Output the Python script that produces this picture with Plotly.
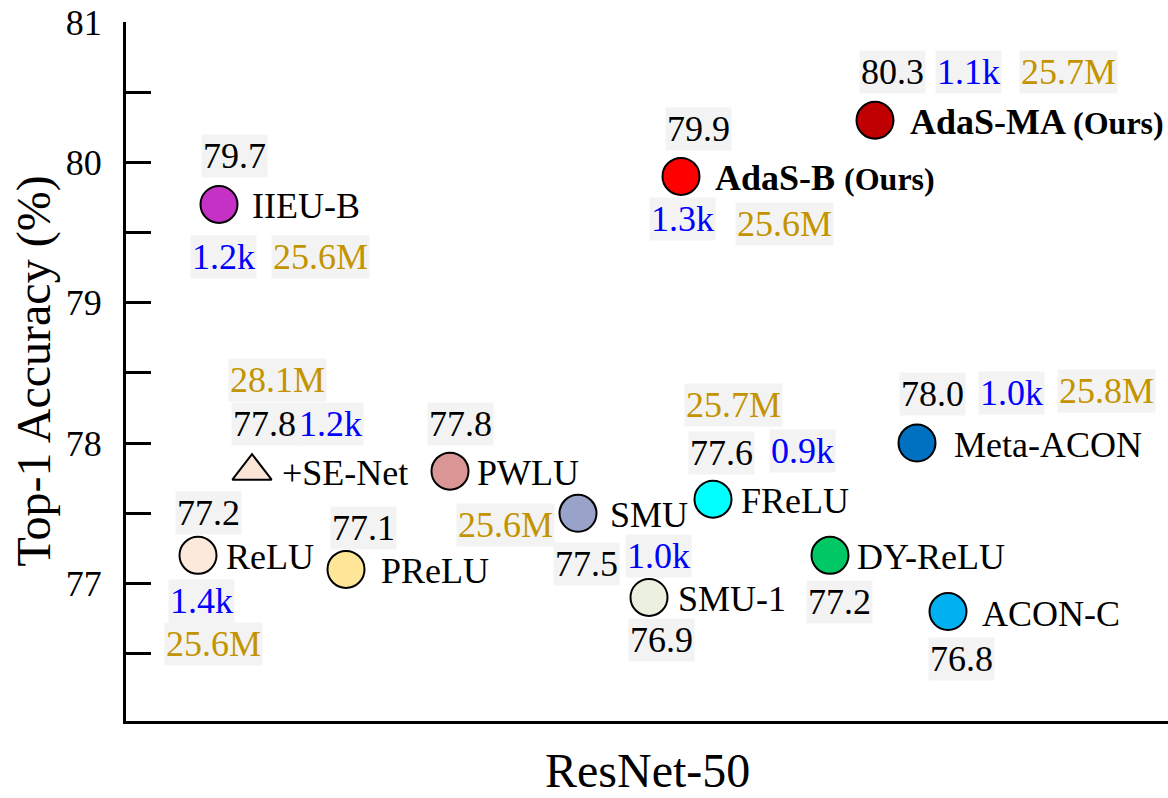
import plotly.graph_objects as go

# Activation functions compared on ResNet-50 (ImageNet)
methods = ["ReLU", "PReLU", "+SE-Net", "PWLU", "IIEU-B", "SMU", "SMU-1",
           "FReLU", "DY-ReLU", "ACON-C", "Meta-ACON", "AdaS-B", "AdaS-MA"]
# horizontal placement of each method (no numeric meaning on this axis)
x_pos = [0.72, 2.20, 1.26, 3.24, 0.93, 4.52, 5.23,
         5.87, 7.04, 8.22, 7.91, 5.55, 7.49]
top1 = [77.2, 77.1, 77.8, 77.8, 79.7, 77.5, 76.9,
        77.6, 77.2, 76.8, 78.0, 79.9, 80.3]
flops = ["1.4k", None, "1.2k", None, "1.2k", None, "1.0k",
         "0.9k", None, None, "1.0k", "1.3k", "1.1k"]
params = ["25.6M", None, "28.1M", "25.6M", "25.6M", None, None,
          "25.7M", None, None, "25.8M", "25.6M", "25.7M"]
ours = ["AdaS-B", "AdaS-MA"]

y_ticks = [76.5, 77, 77.5, 78, 78.5, 79, 79.5, 80, 80.5, 81]
y_ticktext = ["", "77", "", "78", "", "79", "", "80", "", "81"]

# marker styling
fill = {
    "ReLU": "#fde9db", "PReLU": "#ffe699", "+SE-Net": "#fbe5d6",
    "PWLU": "#d99694", "IIEU-B": "#c431c4", "SMU": "#99a2c9",
    "SMU-1": "#ebf1de", "FReLU": "#00ffff", "DY-ReLU": "#00c864",
    "ACON-C": "#00b0f0", "Meta-ACON": "#0070c0", "AdaS-B": "#ff0000",
    "AdaS-MA": "#c00000",
}

# label placement in pixels relative to each marker: (dx, dy) with dy downward
val_off = {
    "ReLU": (10, -42), "PReLU": (17, -41), "+SE-Net": (12, -47),
    "PWLU": (10, -47), "IIEU-B": (15, -48), "SMU": (8, 51),
    "SMU-1": (12, 43), "FReLU": (8, -46), "DY-ReLU": (9, 47),
    "ACON-C": (13, 47), "Meta-ACON": (15, -49), "AdaS-B": (17, -47),
    "AdaS-MA": (17, -48),
}
flops_off = {
    "ReLU": (3, 46), "+SE-Net": (78, -47), "IIEU-B": (4, 53),
    "SMU-1": (9, -41), "FReLU": (89, -48), "Meta-ACON": (94, -50),
    "AdaS-B": (1, 43), "AdaS-MA": (93, -48),
}
params_off = {
    "ReLU": (15, 89), "+SE-Net": (25, -91), "PWLU": (55, 54),
    "IIEU-B": (101, 53), "FReLU": (20, -94), "Meta-ACON": (189, -52),
    "AdaS-B": (103, 48), "AdaS-MA": (193, -48),
}
name_dx = {
    "ReLU": 26, "PReLU": 33, "+SE-Net": 28, "PWLU": 25, "IIEU-B": 31,
    "SMU": 30, "SMU-1": 27, "FReLU": 26, "DY-ReLU": 25, "ACON-C": 32,
    "Meta-ACON": 35, "AdaS-B": 32, "AdaS-MA": 33,
}

FONT = "Liberation Serif"
BOX = "#f3f3f3"
BLUE = "#0000ff"
GOLD = "#c39300"

fig = go.Figure()
fig.add_trace(go.Scatter(
    x=x_pos, y=top1, mode="markers",
    marker=dict(
        size=[34 if m == "+SE-Net" else 37 for m in methods],
        symbol=["triangle-up" if m == "+SE-Net" else "circle" for m in methods],
        color=[fill[m] for m in methods],
        opacity=1,
        line=dict(color="black", width=2),
    ),
    hoverinfo="skip", showlegend=False,
))

ann = []
for m, x, y, fl, pa in zip(methods, x_pos, top1, flops, params):
    if m in ours:
        name = f"<b>{m} <span style='font-size:32px'>(Ours)</span></b>"
    else:
        name = m
    ann.append(dict(x=x, y=y, xref="x", yref="y", text=name, showarrow=False,
                    xanchor="left", yanchor="middle", xshift=name_dx[m], yshift=-2,
                    font=dict(family=FONT, size=36, color="black")))
    dx, dy = val_off[m]
    ann.append(dict(x=x, y=y, xref="x", yref="y", text=f"{y:.1f}", showarrow=False,
                    xanchor="center", yanchor="middle", xshift=dx, yshift=-dy,
                    bgcolor=BOX, borderpad=1,
                    font=dict(family=FONT, size=36, color="black")))
    if fl is not None:
        dx, dy = flops_off[m]
        ann.append(dict(x=x, y=y, xref="x", yref="y", text=fl, showarrow=False,
                        xanchor="center", yanchor="middle", xshift=dx, yshift=-dy,
                        bgcolor=BOX, borderpad=1,
                        font=dict(family=FONT, size=36, color=BLUE)))
    if pa is not None:
        dx, dy = params_off[m]
        ann.append(dict(x=x, y=y, xref="x", yref="y", text=pa, showarrow=False,
                        xanchor="center", yanchor="middle", xshift=dx, yshift=-dy,
                        bgcolor=BOX, borderpad=1,
                        font=dict(family=FONT, size=36, color=GOLD)))

# axis titles
ann.append(dict(x=0.5, y=0, xref="paper", yref="paper", text="ResNet-50",
                showarrow=False, xanchor="center", yanchor="middle", yshift=-49,
                font=dict(family=FONT, size=48, color="black")))
ann.append(dict(x=0, y=0.5, xref="paper", yref="paper", text="Top-1 Accuracy (%)",
                showarrow=False, textangle=-90, xanchor="center", yanchor="middle",
                xshift=-93, font=dict(family=FONT, size=48, color="black")))

fig.update_layout(
    width=1168, height=798,
    margin=dict(l=126, r=0, t=22, b=77),
    plot_bgcolor="white", paper_bgcolor="white",
    annotations=ann,
    xaxis=dict(range=[0, 10.42], showline=True, linecolor="black", linewidth=3,
               showticklabels=False, ticks="", showgrid=False, zeroline=False,
               fixedrange=True),
    yaxis=dict(range=[76.02, 81], tickmode="array", tickvals=y_ticks,
               ticktext=y_ticktext, ticks="inside", ticklen=25, tickwidth=3,
               tickcolor="black", showline=True, linecolor="black", linewidth=3,
               tickfont=dict(family=FONT, size=36, color="black"),
               ticklabelstandoff=14, showgrid=False, zeroline=False,
               fixedrange=True),
)

fig.write_html("out.html")
